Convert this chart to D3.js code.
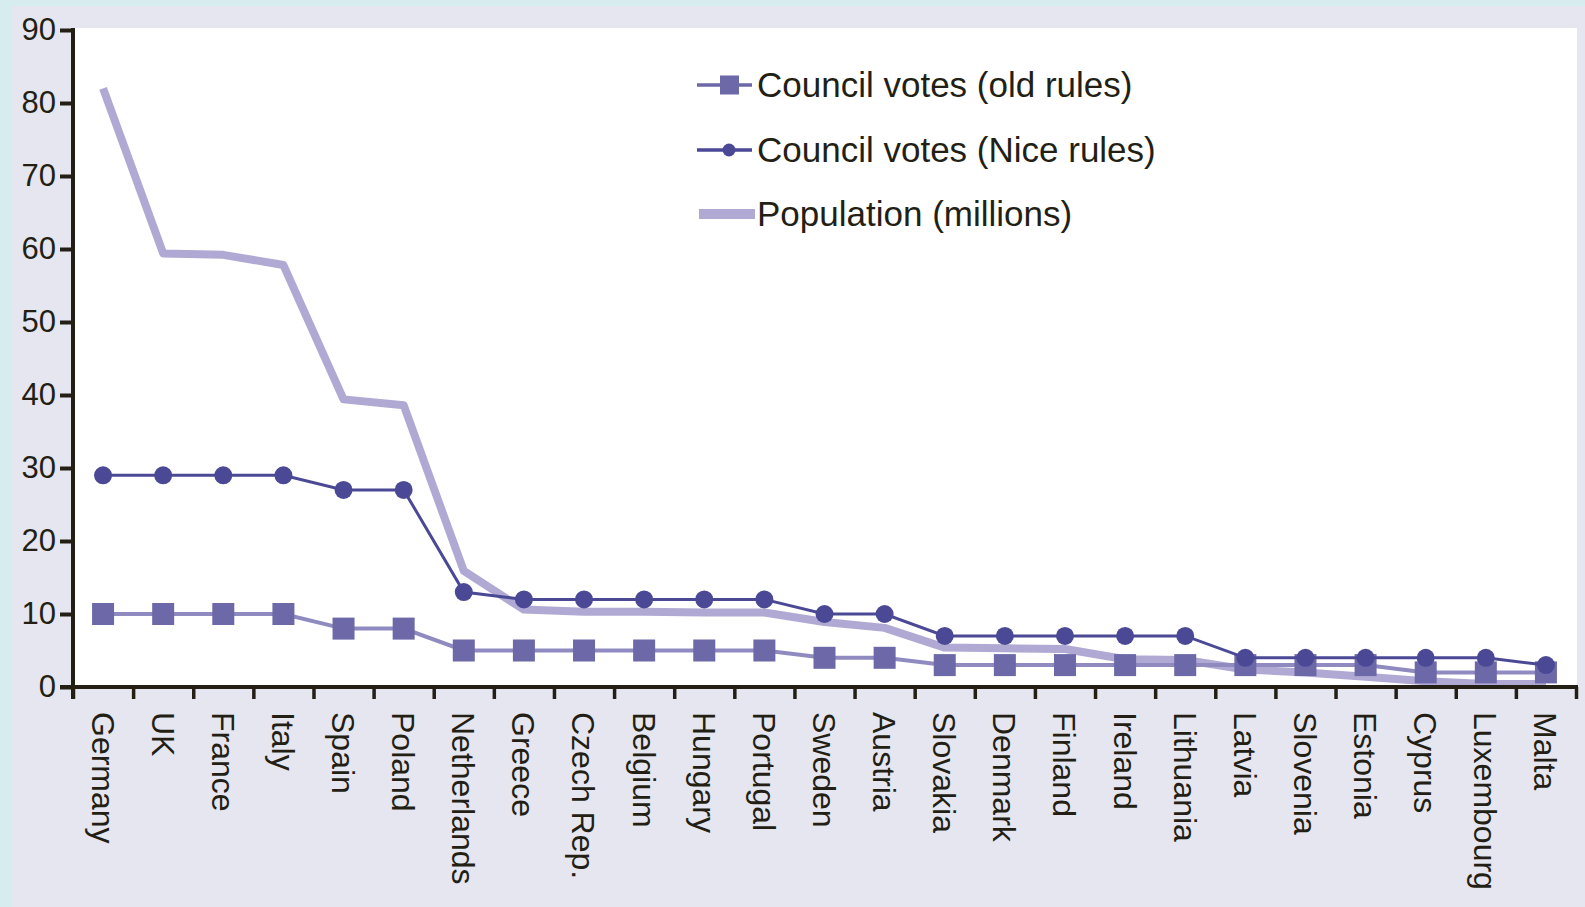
<!DOCTYPE html>
<html>
<head>
<meta charset="utf-8">
<script src="https://cdn.jsdelivr.net/npm/d3@7"></script>
<style>
  html, body { margin: 0; padding: 0; background: #e6e6f1; }
  svg { display: block; }
</style>
</head>
<body>
<script>
const WIDTH = 1585;
const HEIGHT = 907;

const countries = ["Germany", "UK", "France", "Italy", "Spain", "Poland", "Netherlands", "Greece",
    "Czech Rep.", "Belgium", "Hungary", "Portugal", "Sweden", "Austria", "Slovakia", "Denmark",
    "Finland", "Ireland", "Lithuania", "Latvia", "Slovenia", "Estonia", "Cyprus", "Luxembourg", "Malta"];
const oldVotes = [10, 10, 10, 10, 8, 8, 5, 5, 5, 5, 5, 5, 4, 4, 3, 3, 3, 3, 3, 3, 3, 3, 2, 2, 2];
const niceVotes = [29, 29, 29, 29, 27, 27, 13, 12, 12, 12, 12, 12, 10, 10, 7, 7, 7, 7, 7, 4, 4, 4, 4, 4, 3];
const population = [82.0, 59.4, 59.2, 57.8, 39.4, 38.6, 15.9, 10.6, 10.3, 10.3, 10.2, 10.2, 8.9, 8.1,
    5.4, 5.3, 5.2, 3.8, 3.7, 2.4, 2.0, 1.4, 0.8, 0.4, 0.4];
const yTicks = [0, 10, 20, 30, 40, 50, 60, 70, 80, 90];
const legendLabels = ["Council votes (old rules)", "Council votes (Nice rules)", "Population (millions)"];

const INK = "#231f14";
const OLD_COLOR = "#6d69a8";
const OLD_LINE = "#8f8bc0";
const NICE_COLOR = "#4b4996";
const POP_COLOR = "#afa9d3";

const plot = { left: 73, right: 1577, top: 28, bottom: 687 };

const svg = d3.select("body").append("svg")
    .attr("width", WIDTH)
    .attr("height", HEIGHT)
    .attr("viewBox", [0, 0, WIDTH, HEIGHT]);

// background strips
svg.append("rect").attr("width", WIDTH).attr("height", HEIGHT).attr("fill", "#e6e6f1");
svg.append("rect").attr("width", 12).attr("height", HEIGHT).attr("fill", "#d6ecef");
svg.append("rect").attr("width", WIDTH).attr("height", 6).attr("fill", "#d6ecef");
svg.append("rect")
    .attr("x", plot.left).attr("y", plot.top)
    .attr("width", plot.right - plot.left).attr("height", plot.bottom - plot.top)
    .attr("fill", "#fff");

const x = d3.scalePoint()
    .domain(countries)
    .range([plot.left, 1576])
    .padding(0.5);

const xEdges = d3.scaleLinear()
    .domain([0, countries.length])
    .range([plot.left, 1576]);

const y = d3.scaleLinear()
    .domain([0, 90])
    .range([687, 30]);

const lineOf = d3.line().x((d, i) => x(countries[i])).y(d => y(d));

// population line
svg.append("path")
    .datum(population)
    .attr("fill", "none")
    .attr("stroke", POP_COLOR)
    .attr("stroke-width", 8)
    .attr("stroke-linejoin", "round")
    .attr("d", lineOf);

// old rules
svg.append("path")
    .datum(oldVotes)
    .attr("fill", "none")
    .attr("stroke", OLD_LINE)
    .attr("stroke-width", 4)
    .attr("d", lineOf);

svg.append("g")
    .attr("fill", OLD_COLOR)
    .selectAll("rect")
    .data(oldVotes)
    .join("rect")
        .attr("x", (d, i) => x(countries[i]) - 11)
        .attr("y", d => y(d) - 11)
        .attr("width", 22)
        .attr("height", 22);

// Nice rules
svg.append("path")
    .datum(niceVotes)
    .attr("fill", "none")
    .attr("stroke", NICE_COLOR)
    .attr("stroke-width", 3)
    .attr("d", lineOf);

svg.append("g")
    .attr("fill", NICE_COLOR)
    .selectAll("circle")
    .data(niceVotes)
    .join("circle")
        .attr("cx", (d, i) => x(countries[i]))
        .attr("cy", d => y(d))
        .attr("r", 9);

// y axis
const yAxis = svg.append("g")
    .attr("transform", `translate(${plot.left},0)`)
    .call(d3.axisLeft(y).tickValues(yTicks).tickSize(13).tickPadding(4));
yAxis.select(".domain").remove();
yAxis.selectAll(".tick line").attr("stroke", INK).attr("stroke-width", 4);
yAxis.selectAll(".tick text")
    .attr("fill", INK)
    .attr("font-family", "'Liberation Sans', Arial, sans-serif")
    .attr("font-size", 31);
svg.append("line")
    .attr("x1", plot.left).attr("x2", plot.left)
    .attr("y1", 28).attr("y2", 699)
    .attr("stroke", INK).attr("stroke-width", 4);

// x axis
const xAxis = svg.append("g")
    .attr("transform", `translate(0,${y(0)})`)
    .call(d3.axisBottom(xEdges).ticks(countries.length).tickSize(12).tickFormat(""));
xAxis.select(".domain").remove();
xAxis.selectAll(".tick line").attr("stroke", INK).attr("stroke-width", 3.5);
svg.append("line")
    .attr("x1", plot.left - 13).attr("x2", 1578)
    .attr("y1", y(0)).attr("y2", y(0))
    .attr("stroke", INK).attr("stroke-width", 4);

svg.append("g")
    .attr("font-family", "'Liberation Sans', Arial, sans-serif")
    .attr("font-size", 32)
    .attr("fill", INK)
    .selectAll("text")
    .data(countries)
    .join("text")
        .attr("transform", d => `translate(${x(d)},712) rotate(90)`)
        .attr("dy", "0.36em")
        .text(d => d);

// legend
const legend = svg.append("g")
    .attr("font-family", "'Liberation Sans', Arial, sans-serif")
    .attr("font-size", 35)
    .attr("fill", INK);
const legendY = [85, 150, 214];

legend.append("line")
    .attr("x1", 697).attr("x2", 752).attr("y1", legendY[0]).attr("y2", legendY[0])
    .attr("stroke", OLD_COLOR).attr("stroke-width", 3.5);
legend.append("rect")
    .attr("x", 720).attr("y", legendY[0] - 9.5).attr("width", 19).attr("height", 19)
    .attr("fill", OLD_COLOR);
legend.append("line")
    .attr("x1", 697).attr("x2", 752).attr("y1", legendY[1]).attr("y2", legendY[1])
    .attr("stroke", NICE_COLOR).attr("stroke-width", 3.5);
legend.append("circle")
    .attr("cx", 729).attr("cy", legendY[1]).attr("r", 6.5)
    .attr("fill", NICE_COLOR);
legend.append("line")
    .attr("x1", 699).attr("x2", 755).attr("y1", legendY[2]).attr("y2", legendY[2])
    .attr("stroke", POP_COLOR).attr("stroke-width", 10);

legend.selectAll("text")
    .data(legendLabels)
    .join("text")
        .attr("x", 757)
        .attr("y", (d, i) => legendY[i])
        .attr("dy", "0.35em")
        .text(d => d);
</script>
</body>
</html>
